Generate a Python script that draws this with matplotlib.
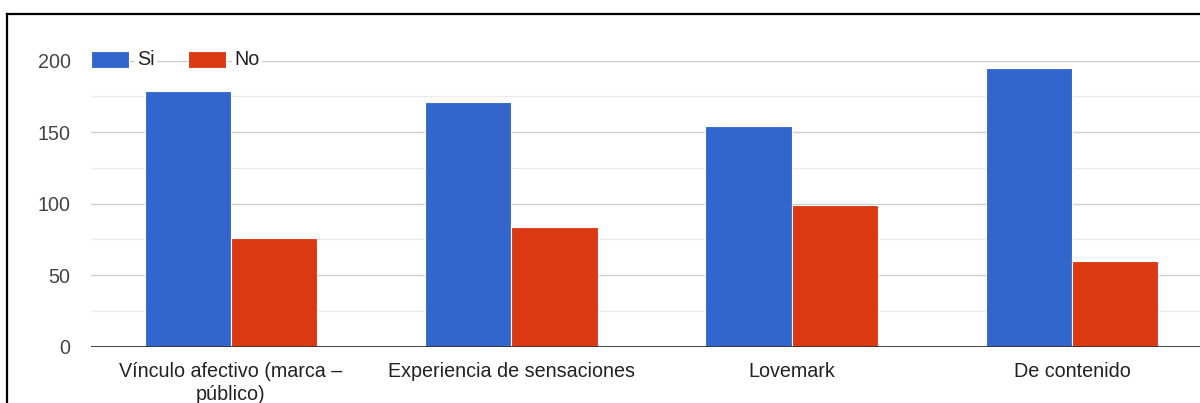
import textwrap
import matplotlib
matplotlib.use("Agg")
import matplotlib.pyplot as plt
from matplotlib.lines import Line2D
from matplotlib.patches import Rectangle
import numpy as np

# Survey results per strategy type
categories = ["Vínculo afectivo (marca – público)", "Experiencia de sensaciones",
              "Lovemark", "De contenido"]
si_values = [179, 171, 154, 195]
no_values = [76, 84, 99, 60]
series_names = ["Si", "No"]
y_ticks = [0, 50, 100, 150, 200]

BLUE = "#3366CC"
RED = "#DC3912"
FONT = ["Liberation Sans", "DejaVu Sans"]
FS = 14.2
plt.rcParams["font.family"] = FONT

W, H, DPI = 1200, 403, 100
fig = plt.figure(figsize=(W / DPI, H / DPI), dpi=DPI)

px = lambda v: v / W
py = lambda v: 1 - v / H
left, right = 90.7, 1212.3
top, bottom = 60.7, 346.7
ax = fig.add_axes([px(left), py(bottom), px(right - left), (bottom - top) / H])

x = np.arange(len(categories))
bw = 0.3077
ax.bar(x - bw / 2, si_values, width=bw, color=BLUE, edgecolor="white",
       linewidth=0.8, zorder=3)
ax.bar(x + bw / 2, no_values, width=bw, color=RED, edgecolor="white",
       linewidth=0.8, zorder=3)

ax.set_xlim(-0.5, len(categories) - 0.5)
ax.set_ylim(0, 200)

# gridlines: major every 50, minor every 25
for v in np.arange(25, 201, 25):
    major = v % 50 == 0
    ax.axhline(v, color="#cccccc" if major else "#ebebeb", linewidth=1.0,
               zorder=1)
ax.axhline(0, color="#333333", linewidth=1.3, zorder=4)

for s in ax.spines.values():
    s.set_visible(False)
ax.set_yticks(y_ticks)
ax.set_yticklabels([str(t) for t in y_ticks])
ax.tick_params(axis="y", length=0, pad=14.5, labelsize=FS, labelcolor="#444444")
ax.set_xticks(x)
ax.set_xticklabels([textwrap.fill(c, 26) for c in categories])
ax.tick_params(axis="x", length=0, pad=11, labelsize=FS, labelcolor="#222222")
for lbl in ax.get_xticklabels():
    lbl.set_linespacing(1.3)

# legend laid over the top gridline
leg_y = 59.3
for name, color, x0, tx in [(series_names[0], BLUE, 91, 137.5),
                            (series_names[1], RED, 188.3, 234.5)]:
    fig.add_artist(Rectangle((px(x0), py(leg_y + 8.7)), px(37.7), 17.4 / H,
                             transform=fig.transFigure, facecolor=color,
                             edgecolor="white", linewidth=0.8, zorder=6))
    fig.text(px(tx), py(leg_y), name, fontsize=FS, color="#222222",
             ha="left", va="center", zorder=6,
             bbox=dict(facecolor="white", edgecolor="none", pad=1.5))

# outer frame
fig.add_artist(Line2D([px(7.3), 1], [py(14), py(14)], color="black",
                      linewidth=1.6, transform=fig.transFigure))
fig.add_artist(Line2D([px(7.3), px(7.3)], [0, py(14)], color="black",
                      linewidth=1.6, transform=fig.transFigure))

fig.savefig("out.png", dpi=DPI)
